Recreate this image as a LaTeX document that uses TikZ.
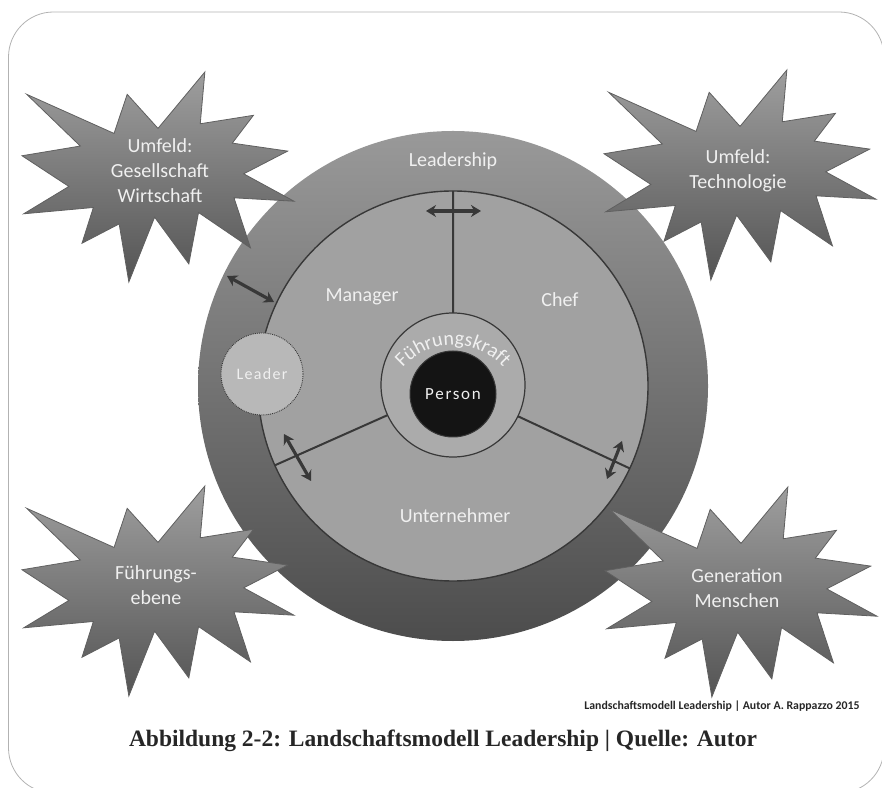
\documentclass[tikz,border=0pt]{standalone}
\usepackage{fontspec}
\setmainfont{Carlito}
\newfontfamily\captionserif{Liberation Serif}
\usetikzlibrary{arrows.meta,decorations.text}

\definecolor{outertop}{gray}{0.60}
\definecolor{outerbot}{gray}{0.30}
\definecolor{midfill}{gray}{0.63}
\definecolor{ringfill}{gray}{0.67}
\definecolor{leaderfill}{gray}{0.72}
\definecolor{edgegray}{gray}{0.22}
\definecolor{lighttext}{gray}{0.94}
\definecolor{bursttop}{gray}{0.62}
\definecolor{burstbot}{gray}{0.33}

\tikzset{
  disc/.style={circle, inner sep=0pt, outer sep=0pt},
  ringtext/.style={text=lighttext, font=\fontsize{20}{24}\selectfont},
  bursttext/.style={text=lighttext, align=center, font=\fontsize{20}{25}\selectfont},
  dblarrow/.style={draw=edgegray, line width=3.2pt,
    {Stealth[length=10pt,width=12pt]}-{Stealth[length=10pt,width=12pt]}},
  % explosion outline, unit box, scaled to 272 x 210
  pics/burst/.style={code={
    \draw[draw=gray!75!black, line width=0.8pt, top color=bursttop, bottom color=burstbot,
          xscale=272, yscale=210]
      (0,0.2315) -- (0.1723,0.5) -- (0.1553,0.2535) -- (0.3509,0.2937)
      -- (0.2732,0.1613) -- (0.4767,0.1233) -- (0.3151,0.0150) -- (0.5,-0.1153)
      -- (0.2795,-0.0992) -- (0.3400,-0.3377) -- (0.1491,-0.1693) -- (0.1133,-0.4138)
      -- (-0.0124,-0.1914) -- (-0.1072,-0.5) -- (-0.1428,-0.2235) -- (-0.2795,-0.3156)
      -- (-0.2376,-0.1452) -- (-0.4938,-0.1753) -- (-0.3277,-0.0451) -- (-0.5,0.1012)
      -- (-0.2858,0.1474) -- (-0.4829,0.3938) -- (-0.1615,0.2074) -- (-0.1133,0.3938)
      -- cycle;
  }}
}

\begin{document}
\begin{tikzpicture}[x=1pt, y=1pt]
\useasboundingbox (0,0) rectangle (882,787);

% frame
\draw[gray!60, line width=0.8pt, rounded corners=45pt] (8.5,775) rectangle (884,-6);

% rings
\node [disc, minimum size=510pt, top color=outertop, bottom color=outerbot] (outer) at (453,401) {};
\node [disc, minimum size=390pt, fill=midfill, draw=edgegray, line width=1.4pt] (mid) at (453,401) {};

\draw [edgegray, line width=2pt] (mid.90)--(453,401)--(mid.204.5) (453,401)--(mid.335.5);

\node [disc, minimum size=144pt, fill=ringfill, draw=edgegray, line width=1.2pt] (fuehrung) at (453,402) {};
\node [disc, minimum size=86pt, fill=black!92, draw=edgegray, line width=1pt, text=lighttext,
       font=\fontsize{17}{17}\selectfont\addfontfeature{LetterSpace=10}] (person) at (453,393) {Person};
\path [decorate, decoration={text along path, text align=center, text color=lighttext,
       text={|\fontsize{20}{20}\selectfont|Führungskraft}}]
  (453,375) ++(150:67) arc [start angle=150, end angle=30, radius=67];

\node [disc, minimum size=82pt, fill=leaderfill, draw=edgegray, densely dotted, line width=0.9pt,
       text=lighttext, font=\fontsize{16}{16}\selectfont\addfontfeature{LetterSpace=8}] (leader) at (262,413) {Leader};

% ring labels
\node [ringtext] (leadership) at (453,626) {Leadership};
\node [ringtext] (manager) at (362,490) {Manager};
\node [ringtext] (chef) at (560,487) {Chef};
\node [ringtext] (unternehmer) at (455,271) {Unternehmer};

% arrows
\coordinate (a1) at (426,576); \coordinate (b1) at (481,576);
\coordinate (a2) at (227,511); \coordinate (b2) at (274,485);
\coordinate (a3) at (284,353); \coordinate (b3) at (311,306);
\coordinate (a4) at (622,346); \coordinate (b4) at (607,308);
\draw [dblarrow] (a1)--(b1);
\draw [dblarrow] (a2)--(b2);
\draw [dblarrow] (a3)--(b3);
\draw [dblarrow] (a4)--(b4);

% environment bursts
\pic at (158,610) {burst};
\pic at (740,612) {burst};
\pic at (158,196) {burst};
\pic at (741,195) {burst};
\node [bursttext] (umfeld1) at (160,616) {Umfeld:\\Gesellschaft\\Wirtschaft};
\node [bursttext] (umfeld2) at (738,616) {Umfeld:\\Technologie};
\node [bursttext] (ebene) at (156,202) {Führungs-\\ebene};
\node [bursttext] (generation) at (737,199) {Generation\\Menschen};

% credits
\node [font=\bfseries\fontsize{11.8}{14}\selectfont, text=black!85] (credit) at (722,81)
  {Landschaftsmodell Leadership | Autor A. Rappazzo 2015};
\node [font=\captionserif\bfseries\fontsize{23.5}{28}\selectfont, text=black!85] (caption) at (443,46)
  {Abbildung 2-2: Landschaftsmodell Leadership | Quelle: Autor};
\end{tikzpicture}
\end{document}
